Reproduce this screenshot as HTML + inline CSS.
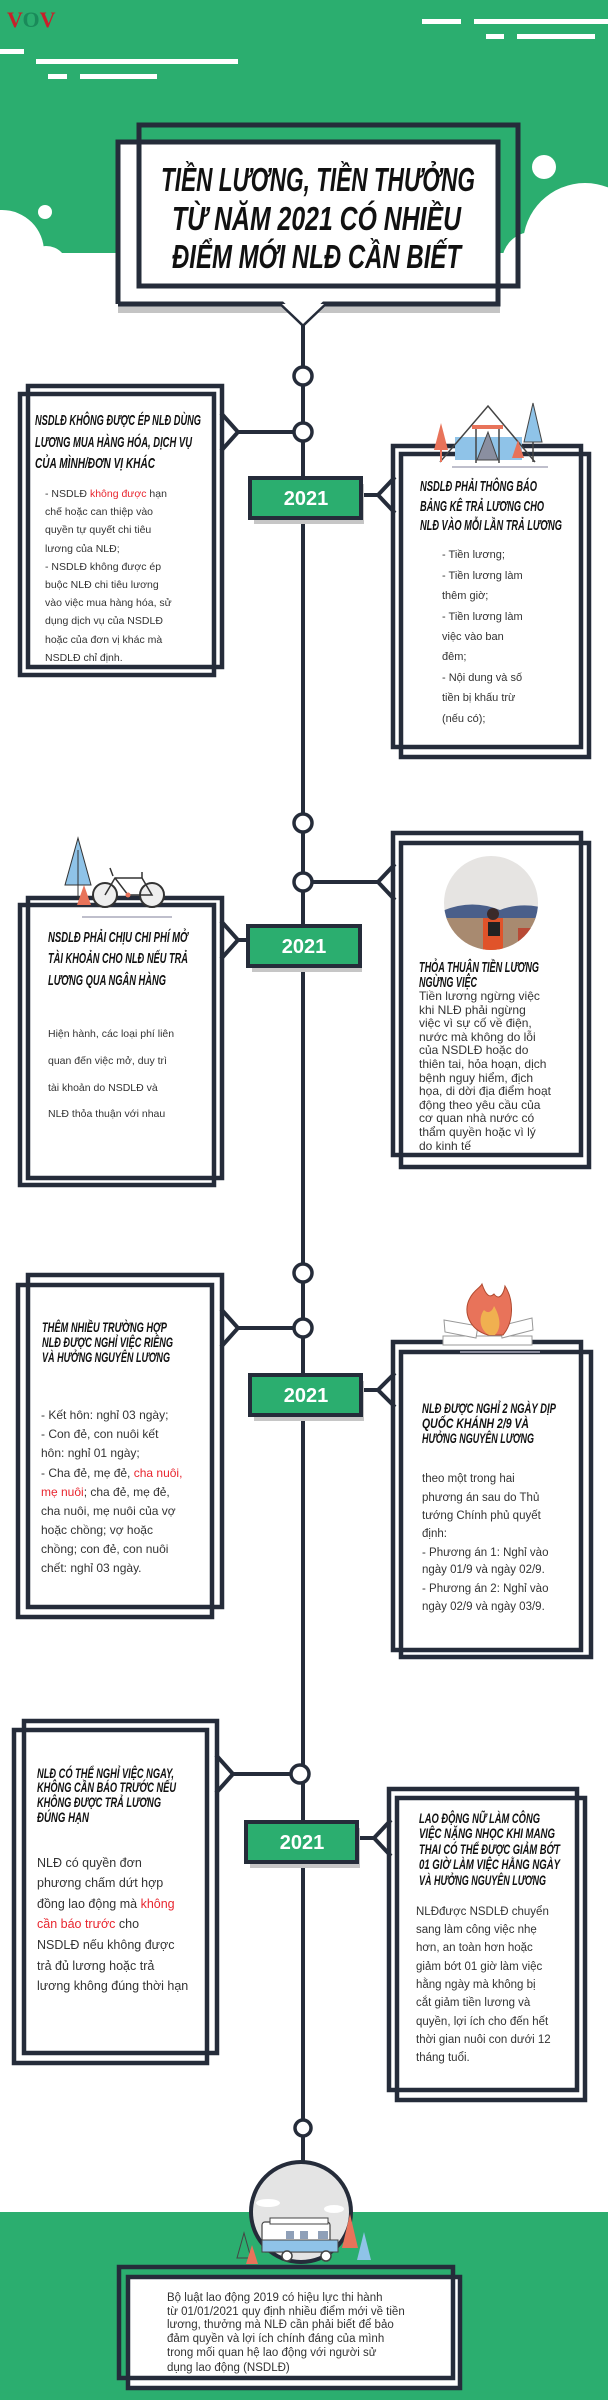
<!DOCTYPE html>
<html><head><meta charset="utf-8"><style>
html,body{margin:0;padding:0;background:#fff;}
svg{display:block;}
.h{font-family:"Liberation Sans Narrow","Liberation Sans",sans-serif;font-weight:bold;font-style:italic;fill:#111;}
.b{font-family:"Liberation Sans",sans-serif;fill:#333;}
.r{fill:#e8262f;}
</style></head><body>
<svg width="608" height="2400" viewBox="0 0 608 2400" xmlns="http://www.w3.org/2000/svg">
<!-- top green -->
<rect x="0" y="0" width="608" height="253" fill="#2bae6f"/>
<g fill="#fff">
<circle cx="2" cy="252" r="42"/><circle cx="46" cy="268" r="22"/><rect x="0" y="253" width="608" height="10"/>
<circle cx="585" cy="245" r="62"/><circle cx="532" cy="262" r="30"/>
<circle cx="544" cy="167" r="12"/><circle cx="45" cy="212" r="7"/>
<rect x="422" y="19" width="39" height="5"/><rect x="474" y="19" width="134" height="5"/>
<rect x="486" y="34" width="18" height="5"/><rect x="517" y="34" width="78" height="5"/>
<rect x="0" y="49" width="24" height="5"/><rect x="36" y="59" width="202" height="5"/>
<rect x="48" y="74" width="19" height="5"/><rect x="80" y="74" width="77" height="5"/>
</g>
<text x="7" y="27" font-family="Liberation Serif,serif" font-weight="bold" font-size="22"><tspan fill="#c8202a">V</tspan><tspan fill="#1a8a5a">O</tspan><tspan fill="#c8202a">V</tspan></text>

<!-- bottom green -->
<rect x="0" y="2212" width="608" height="188" fill="#2bae6f"/>

<!-- main vertical line -->
<line x1="303" y1="318" x2="303" y2="2165" stroke="#252c3a" stroke-width="4"/>

<!-- title -->
<rect x="118" y="306" width="382" height="7" fill="#c4c4c4"/>
<rect x="118" y="142" width="380" height="162" fill="#fff"/>
<g fill="none" stroke="#252c3a" stroke-width="5">
<rect x="139" y="125" width="379" height="161"/>
<polyline points="118,304 118,142 498,142 498,304 324,304 303,324 282,304 118,304"/>
</g>
<polyline points="282,304 303,324 324,304" fill="#fff" stroke="none"/>
<text class="h" x="161" y="191" font-size="33" textLength="314" lengthAdjust="spacingAndGlyphs">TIỀN LƯƠNG, TIỀN THƯỞNG</text>
<text class="h" x="172" y="230" font-size="33" textLength="289" lengthAdjust="spacingAndGlyphs">TỪ NĂM 2021 CÓ NHIỀU</text>
<text class="h" x="172" y="268" font-size="33" textLength="289" lengthAdjust="spacingAndGlyphs">ĐIỂM MỚI NLĐ CẦN BIẾT</text>

<!-- circles on line -->
<g fill="#fff" stroke="#252c3a" stroke-width="3.5">
<circle cx="303" cy="376" r="9"/>
<circle cx="303" cy="823" r="9"/>
<circle cx="303" cy="1273" r="9"/>
<circle cx="303" cy="2128" r="8"/>
</g>

<!-- generic connectors -->
<g fill="none" stroke="#252c3a" stroke-width="4">
<polyline points="221,413 238,432 221,451"/><line x1="238" y1="432" x2="296" y2="432"/>
<polyline points="395,477 378,495 395,513"/><line x1="362" y1="495" x2="378" y2="495"/>
<polyline points="221,921 238,940 221,959"/><line x1="238" y1="940" x2="250" y2="940"/>
<polyline points="395,864 378,882 395,900"/><line x1="312" y1="882" x2="378" y2="882"/>
<polyline points="221,1309 238,1328 221,1347"/><line x1="238" y1="1328" x2="296" y2="1328"/>
<polyline points="395,1373 378,1390 395,1407"/><line x1="362" y1="1390" x2="378" y2="1390"/>
<polyline points="216,1755 233,1774 216,1793"/><line x1="233" y1="1774" x2="292" y2="1774"/>
<polyline points="391,1820 374,1838 391,1856"/><line x1="358" y1="1838" x2="374" y2="1838"/>
</g>
<g fill="#fff" stroke="#252c3a" stroke-width="3.5">
<circle cx="303" cy="432" r="9"/>
<circle cx="303" cy="882" r="9"/>
<circle cx="303" cy="1328" r="9"/>
<circle cx="300" cy="1774" r="9"/>
</g>

<!-- badges -->
<g>
<rect x="254" y="484" width="110" height="40" fill="#c6c6c6"/>
<rect x="250" y="478" width="111" height="40" fill="#2bae6f" stroke="#252c3a" stroke-width="4"/>
<rect x="252" y="932" width="110" height="40" fill="#c6c6c6"/>
<rect x="248" y="926" width="112" height="40" fill="#2bae6f" stroke="#252c3a" stroke-width="4"/>
<rect x="254" y="1381" width="110" height="40" fill="#c6c6c6"/>
<rect x="250" y="1375" width="111" height="40" fill="#2bae6f" stroke="#252c3a" stroke-width="4"/>
<rect x="250" y="1828" width="110" height="40" fill="#c6c6c6"/>
<rect x="246" y="1822" width="111" height="40" fill="#2bae6f" stroke="#252c3a" stroke-width="4"/>
</g>
<g font-family="Liberation Sans,sans-serif" font-weight="bold" font-size="20" fill="#fff" text-anchor="middle">
<text x="306" y="505">2021</text><text x="304" y="953">2021</text><text x="306" y="1402">2021</text><text x="302" y="1849">2021</text>
</g>

<!-- boxes: fill then frames -->
<g fill="#fff">
<rect x="20" y="394" width="194" height="281"/>
<rect x="401" y="454" width="188" height="303"/>
<rect x="20" y="905" width="194" height="280"/>
<rect x="401" y="843" width="188" height="324"/>
<rect x="18" y="1285" width="194" height="332"/>
<rect x="401" y="1352" width="190" height="305"/>
<rect x="14" y="1730" width="193" height="333"/>
<rect x="397" y="1798" width="188" height="302"/>
<rect x="128" y="2277" width="332" height="111"/>
</g>
<g fill="none" stroke="#252c3a" stroke-width="4.5">
<rect x="28" y="386" width="194" height="281"/><rect x="20" y="394" width="194" height="281"/>
<rect x="393" y="446" width="188" height="301"/><rect x="401" y="454" width="188" height="303"/>
<rect x="28" y="898" width="194" height="280"/><rect x="20" y="905" width="194" height="280"/>
<rect x="393" y="833" width="188" height="322"/><rect x="401" y="843" width="188" height="324"/>
<rect x="28" y="1275" width="194" height="332"/><rect x="18" y="1285" width="194" height="332"/>
<rect x="393" y="1342" width="188" height="308"/><rect x="401" y="1352" width="190" height="305"/>
<rect x="24" y="1721" width="193" height="332"/><rect x="14" y="1730" width="193" height="333"/>
<rect x="389" y="1789" width="188" height="301"/><rect x="397" y="1798" width="188" height="302"/>
<rect x="119" y="2267" width="334" height="111"/><rect x="128" y="2277" width="332" height="111"/>
</g>

<!-- tent illustration -->
<g>
<rect x="455" y="437" width="67" height="23" fill="#8fc3e8"/>
<polyline points="440,462 488,406 535,462" fill="none" stroke="#444" stroke-width="1.5"/>
<rect x="472" y="425" width="31" height="4" fill="#e8735a"/>
<line x1="476" y1="429" x2="476" y2="463" stroke="#444" stroke-width="1.5"/><line x1="499" y1="429" x2="499" y2="463" stroke="#444" stroke-width="1.5"/>
<polygon points="488,432 477,460 498,460" fill="#8a8fa0" stroke="#444" stroke-width="1"/>
<polygon points="441,423 434,450 448,450" fill="#e8735a"/><line x1="441" y1="450" x2="441" y2="462" stroke="#e8735a" stroke-width="2"/>
<polygon points="533,403 524,442 542,442" fill="#8fc3e8" stroke="#444" stroke-width="1"/><line x1="533" y1="442" x2="533" y2="462" stroke="#444" stroke-width="1.5"/>
<polygon points="518,440 512,458 524,458" fill="#e8735a"/>
<line x1="452" y1="467" x2="548" y2="467" stroke="#aab" stroke-width="1.5"/>
</g>

<!-- bike illustration -->
<g>
<polygon points="78,838 65,885 91,885" fill="#8fc3e8" stroke="#333" stroke-width="1"/>
<line x1="78" y1="850" x2="78" y2="900" stroke="#333" stroke-width="1"/>
<polygon points="84,885 77,905 91,905" fill="#e8735a"/>
<circle cx="105" cy="895" r="12" fill="#eee" stroke="#333" stroke-width="2"/>
<circle cx="152" cy="895" r="12" fill="#eee" stroke="#333" stroke-width="2"/>
<polyline points="105,895 115,878 142,878 152,895 128,895 115,878" fill="none" stroke="#333" stroke-width="1.5"/>
<line x1="142" y1="878" x2="142" y2="872" stroke="#333" stroke-width="1.5"/>
<line x1="113" y1="876" x2="110" y2="868" stroke="#333" stroke-width="1.5"/>
<circle cx="128" cy="895" r="2.5" fill="#e8735a"/>
<line x1="82" y1="917" x2="172" y2="917" stroke="#aab" stroke-width="1.5"/>
</g>

<!-- photo circle -->
<defs><clipPath id="pc"><ellipse cx="491" cy="903" rx="47" ry="47"/></clipPath></defs>
<g clip-path="url(#pc)">
<rect x="440" y="850" width="110" height="110" fill="#e6e4e2"/>
<path d="M440,912 Q470,898 500,910 Q520,902 545,908 L545,920 L440,920Z" fill="#4a5f8a"/>
<rect x="440" y="918" width="110" height="40" fill="#a88a70"/>
<rect x="518" y="928" width="40" height="30" fill="#b84a36"/>
<rect x="483" y="918" width="20" height="36" fill="#e0532a"/>
<circle cx="493" cy="914" r="6" fill="#3a2a2a"/>
<rect x="488" y="922" width="12" height="14" fill="#222"/>
</g>

<!-- fire -->
<g>
<rect x="443" y="1336" width="89" height="9" fill="#fff" stroke="#999" stroke-width="1"/>
<polygon points="444,1320 478,1326 476,1338 445,1332" fill="#fff" stroke="#999" stroke-width="1"/>
<polygon points="500,1326 532,1318 533,1330 502,1338" fill="#fff" stroke="#999" stroke-width="1"/>
<path d="M488,1335 C470,1330 462,1312 470,1298 C474,1290 480,1288 482,1284 C486,1296 490,1298 494,1294 C500,1302 504,1292 505,1286 C514,1300 514,1322 503,1335 Z" fill="#e8735a" stroke="#b04a30" stroke-width="1"/>
<path d="M489,1335 C480,1330 478,1318 484,1310 C488,1314 492,1312 494,1306 C500,1316 502,1328 495,1335Z" fill="#f0b050"/>
<line x1="460" y1="1352" x2="540" y2="1352" stroke="#aab" stroke-width="1.5"/>
</g>

<!-- camper circle -->
<g>
<line x1="303" y1="2136" x2="303" y2="2162" stroke="#252c3a" stroke-width="3"/>
<ellipse cx="301" cy="2212" rx="50" ry="50" fill="#e4e4e4" stroke="#252c3a" stroke-width="4"/>
<polygon points="244,2233 237,2258 251,2258" fill="none" stroke="#444" stroke-width="1"/>
<polygon points="252,2245 246,2264 258,2264" fill="#e8735a"/>
<polygon points="350,2214 342,2248 358,2248" fill="#e8735a"/>
<polygon points="364,2232 357,2260 371,2260" fill="#8fc3e8"/>
<rect x="262" y="2222" width="68" height="30" rx="3" fill="#fff" stroke="#444" stroke-width="1.2"/>
<rect x="262" y="2240" width="76" height="12" fill="#8fc3e8" stroke="#444" stroke-width="1"/>
<rect x="270" y="2218" width="58" height="6" fill="#fff" stroke="#444" stroke-width="1"/>
<rect x="286" y="2231" width="8" height="8" fill="#8fa0b8"/><rect x="300" y="2231" width="8" height="8" fill="#8fa0b8"/><rect x="318" y="2231" width="10" height="8" fill="#8fa0b8"/>
<circle cx="287" cy="2256" r="5" fill="#fff" stroke="#444" stroke-width="1.5"/>
<circle cx="326" cy="2256" r="5" fill="#fff" stroke="#444" stroke-width="1.5"/>
<ellipse cx="268" cy="2203" rx="12" ry="4" fill="#fff"/><ellipse cx="334" cy="2209" rx="10" ry="4" fill="#fff"/>
</g>

<!-- headings -->
<g class="h" font-size="15">
<text x="35" y="425" textLength="166" lengthAdjust="spacingAndGlyphs">NSDLĐ KHÔNG ĐƯỢC ÉP NLĐ DÙNG</text>
<text x="35" y="447" textLength="157" lengthAdjust="spacingAndGlyphs">LƯƠNG MUA HÀNG HÓA, DỊCH VỤ</text>
<text x="35" y="468" textLength="120" lengthAdjust="spacingAndGlyphs">CỦA MÌNH/ĐƠN VỊ KHÁC</text>
<text x="420" y="491" textLength="117" lengthAdjust="spacingAndGlyphs">NSDLĐ PHẢI THÔNG BÁO</text>
<text x="420" y="511" textLength="124" lengthAdjust="spacingAndGlyphs">BẢNG KÊ TRẢ LƯƠNG CHO</text>
<text x="420" y="530" textLength="142" lengthAdjust="spacingAndGlyphs">NLĐ VÀO MỖI LẦN TRẢ LƯƠNG</text>
<text x="48" y="942" textLength="140" lengthAdjust="spacingAndGlyphs">NSDLĐ PHẢI CHỊU CHI PHÍ MỞ</text>
<text x="48" y="963" textLength="140" lengthAdjust="spacingAndGlyphs">TÀI KHOẢN CHO NLĐ NẾU TRẢ</text>
<text x="48" y="985" textLength="118" lengthAdjust="spacingAndGlyphs">LƯƠNG QUA NGÂN HÀNG</text>
<text x="419" y="972" textLength="120" lengthAdjust="spacingAndGlyphs">THỎA THUẬN TIỀN LƯƠNG</text>
<text x="419" y="987" textLength="58" lengthAdjust="spacingAndGlyphs">NGỪNG VIỆC</text>
</g>
<g class="h" font-size="14">
<text x="42" y="1332" textLength="125" lengthAdjust="spacingAndGlyphs">THÊM NHIỀU TRƯỜNG HỢP</text>
<text x="42" y="1347" textLength="131" lengthAdjust="spacingAndGlyphs">NLĐ ĐƯỢC NGHỈ VIỆC RIÊNG</text>
<text x="42" y="1362" textLength="128" lengthAdjust="spacingAndGlyphs">VÀ HƯỞNG NGUYÊN LƯƠNG</text>
<text x="422" y="1413" textLength="134" lengthAdjust="spacingAndGlyphs">NLĐ ĐƯỢC NGHỈ 2 NGÀY DỊP</text>
<text x="422" y="1428" textLength="107" lengthAdjust="spacingAndGlyphs">QUỐC KHÁNH 2/9 VÀ</text>
<text x="422" y="1443" textLength="112" lengthAdjust="spacingAndGlyphs">HƯỞNG NGUYÊN LƯƠNG</text>
<text x="37" y="1778" textLength="137" lengthAdjust="spacingAndGlyphs">NLĐ CÓ THỂ NGHỈ VIỆC NGAY,</text>
<text x="37" y="1792" textLength="139" lengthAdjust="spacingAndGlyphs">KHÔNG CẦN BÁO TRƯỚC NẾU</text>
<text x="37" y="1807" textLength="124" lengthAdjust="spacingAndGlyphs">KHÔNG ĐƯỢC TRẢ LƯƠNG</text>
<text x="37" y="1822" textLength="52" lengthAdjust="spacingAndGlyphs">ĐÚNG HẠN</text>
<text x="419" y="1823" textLength="121" lengthAdjust="spacingAndGlyphs">LAO ĐỘNG NỮ LÀM CÔNG</text>
<text x="419" y="1838" textLength="136" lengthAdjust="spacingAndGlyphs">VIỆC NẶNG NHỌC KHI MANG</text>
<text x="419" y="1854" textLength="141" lengthAdjust="spacingAndGlyphs">THAI CÓ THỂ ĐƯỢC GIẢM BỚT</text>
<text x="419" y="1869" textLength="141" lengthAdjust="spacingAndGlyphs">01 GIỜ LÀM VIỆC HẰNG NGÀY</text>
<text x="419" y="1885" textLength="127" lengthAdjust="spacingAndGlyphs">VÀ HƯỞNG NGUYÊN LƯƠNG</text>
</g>

<!-- body texts -->
<g class="b" font-size="10.5">
<text x="45" y="497">- NSDLĐ <tspan class="r">không được</tspan> hạn</text>
<text x="45" y="515">chế hoặc can thiệp vào</text>
<text x="45" y="533">quyền tự quyết chi tiêu</text>
<text x="45" y="552">lương của NLĐ;</text>
<text x="45" y="570">- NSDLĐ không được ép</text>
<text x="45" y="588">buộc NLĐ chi tiêu lương</text>
<text x="45" y="606">vào việc mua hàng hóa, sử</text>
<text x="45" y="624">dụng dịch vụ của NSDLĐ</text>
<text x="45" y="643">hoặc của đơn vị khác mà</text>
<text x="45" y="661">NSDLĐ chỉ định.</text>
</g>
<g class="b" font-size="11">
<text x="442" y="558">- Tiền lương;</text>
<text x="442" y="579">- Tiền lương làm</text>
<text x="442" y="599">thêm giờ;</text>
<text x="442" y="620">- Tiền lương làm</text>
<text x="442" y="640">việc vào ban</text>
<text x="442" y="660">đêm;</text>
<text x="442" y="681">- Nội dung và số</text>
<text x="442" y="701">tiền bị khấu trừ</text>
<text x="442" y="722">(nếu có);</text>
</g>
<g class="b" font-size="10.5">
<text x="48" y="1037">Hiện hành, các loại phí liên</text>
<text x="48" y="1064">quan đến việc mở, duy trì</text>
<text x="48" y="1091">tài khoản do NSDLĐ và</text>
<text x="48" y="1117">NLĐ thỏa thuận với nhau</text>
</g>
<g class="b" font-size="12" fill="#222">
<text x="419" y="1000">Tiền lương ngừng việc</text>
<text x="419" y="1014">khi NLĐ phải ngừng</text>
<text x="419" y="1027">việc vì sự cố về điện,</text>
<text x="419" y="1041">nước mà không do lỗi</text>
<text x="419" y="1054">của NSDLĐ hoặc do</text>
<text x="419" y="1068">thiên tai, hỏa hoạn, dịch</text>
<text x="419" y="1082">bệnh nguy hiểm, địch</text>
<text x="419" y="1095">họa, di dời địa điểm hoạt</text>
<text x="419" y="1109">động theo yêu cầu của</text>
<text x="419" y="1122">cơ quan nhà nước có</text>
<text x="419" y="1136">thẩm quyền hoặc vì lý</text>
<text x="419" y="1150">do kinh tế</text>
</g>
<g class="b" font-size="12">
<text x="41" y="1419">- Kết hôn: nghỉ 03 ngày;</text>
<text x="41" y="1438">- Con đẻ, con nuôi kết</text>
<text x="41" y="1457">hôn: nghỉ 01 ngày;</text>
<text x="41" y="1477">- Cha đẻ, mẹ đẻ, <tspan class="r">cha nuôi,</tspan></text>
<text x="41" y="1496"><tspan class="r">mẹ nuôi</tspan>; cha đẻ, mẹ đẻ,</text>
<text x="41" y="1515">cha nuôi, mẹ nuôi của vợ</text>
<text x="41" y="1534">hoặc chồng; vợ hoặc</text>
<text x="41" y="1553">chồng; con đẻ, con nuôi</text>
<text x="41" y="1572">chết: nghỉ 03 ngày.</text>
</g>
<g class="b" font-size="11.5">
<text x="422" y="1482">theo một trong hai</text>
<text x="422" y="1501">phương án sau do Thủ</text>
<text x="422" y="1519">tướng Chính phủ quyết</text>
<text x="422" y="1537">định:</text>
<text x="422" y="1556">- Phương án 1: Nghỉ vào</text>
<text x="422" y="1573">ngày 01/9 và ngày 02/9.</text>
<text x="422" y="1592">- Phương án 2: Nghỉ vào</text>
<text x="422" y="1610">ngày 02/9 và ngày 03/9.</text>
</g>
<g class="b" font-size="12.5">
<text x="37" y="1867">NLĐ có quyền đơn</text>
<text x="37" y="1887">phương chấm dứt hợp</text>
<text x="37" y="1908">đồng lao động mà <tspan class="r">không</tspan></text>
<text x="37" y="1928"><tspan class="r">cần báo trước</tspan> cho</text>
<text x="37" y="1949">NSDLĐ nếu không được</text>
<text x="37" y="1970">trả đủ lương hoặc trả</text>
<text x="37" y="1990">lương không đúng thời hạn</text>
</g>
<g class="b" font-size="11.5">
<text x="416" y="1915">NLĐđược NSDLĐ chuyển</text>
<text x="416" y="1933">sang làm công việc nhẹ</text>
<text x="416" y="1951">hơn, an toàn hơn hoặc</text>
<text x="416" y="1970">giảm bớt 01 giờ làm việc</text>
<text x="416" y="1988">hằng ngày mà không bị</text>
<text x="416" y="2006">cắt giảm tiền lương và</text>
<text x="416" y="2025">quyền, lợi ích cho đến hết</text>
<text x="416" y="2043">thời gian nuôi con dưới 12</text>
<text x="416" y="2061">tháng tuổi.</text>
</g>
<g class="b" font-size="11.5" fill="#222">
<text x="167" y="2301">Bộ luật lao động 2019 có hiệu lực thi hành</text>
<text x="167" y="2315">từ 01/01/2021 quy định nhiều điểm mới về tiền</text>
<text x="167" y="2328">lương, thưởng mà NLĐ cần phải biết để bảo</text>
<text x="167" y="2342">đảm quyền và lợi ích chính đáng của mình</text>
<text x="167" y="2356">trong mối quan hệ lao động với người sử</text>
<text x="167" y="2371">dụng lao động (NSDLĐ)</text>
</g>
</svg>
</body></html>
